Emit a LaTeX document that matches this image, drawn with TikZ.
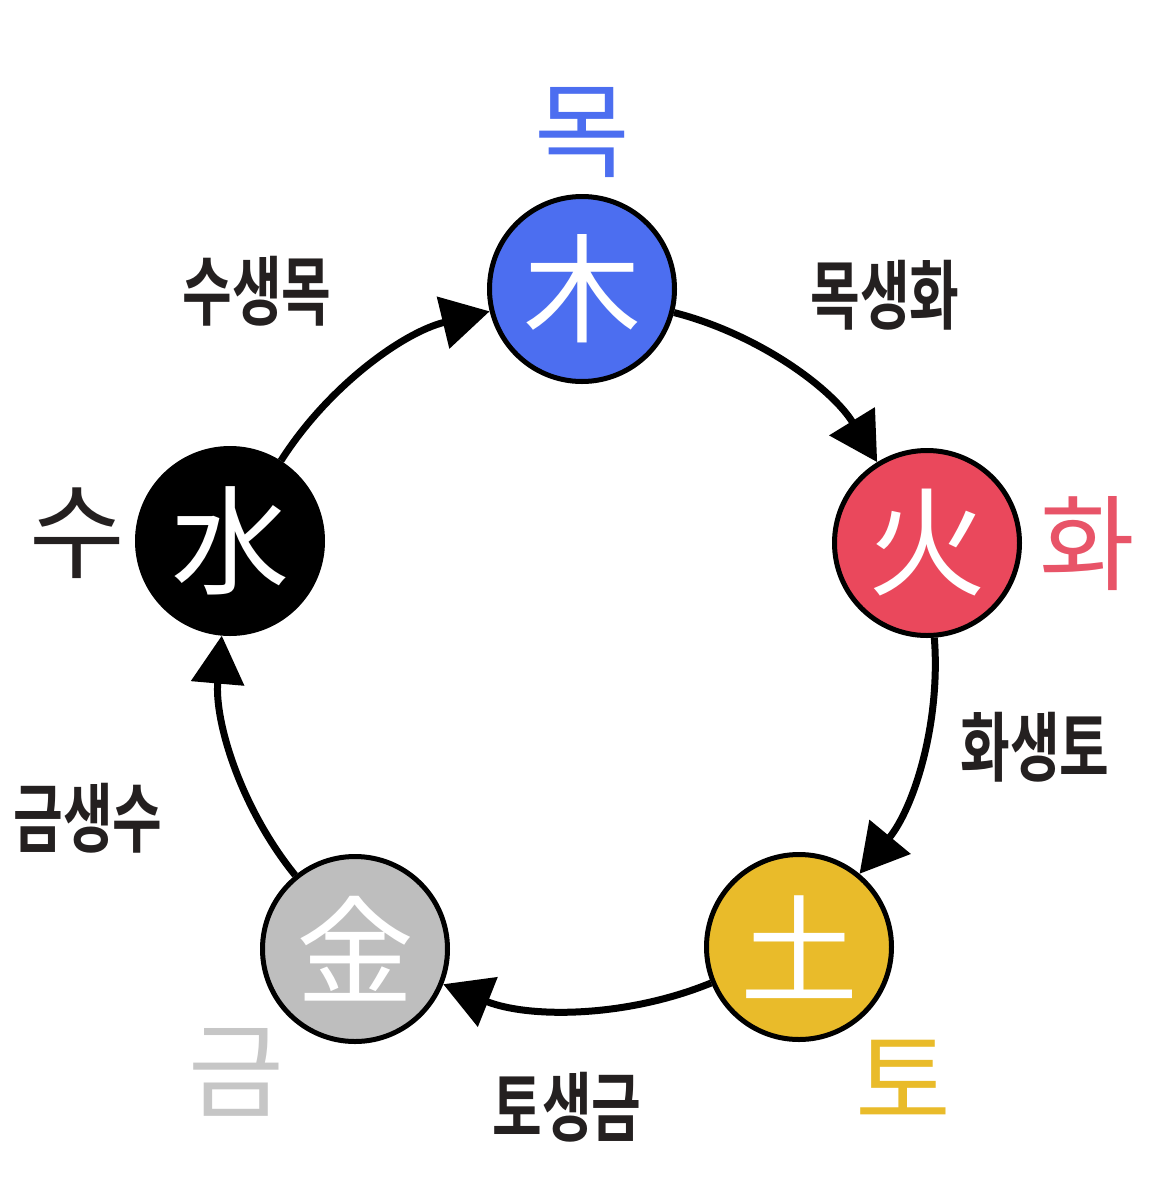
\documentclass[tikz,border=0pt]{standalone}
\usepackage{fontspec}
\usepackage{xcolor}
\usepackage{graphicx}
\usepackage{tikz}
\usetikzlibrary{arrows.meta}
\newfontfamily\krfont[BoldFont=Noto Sans CJK KR Bold]{Noto Sans CJK KR}
\def\hanjafont{\krfont\fontsize{118pt}{118pt}\selectfont}
\def\namefont{\krfont\fontsize{104pt}{104pt}\selectfont}
\def\saengfont{\krfont\bfseries\fontsize{54pt}{54pt}\selectfont}
\newcommand{\saeng}[1]{\scalebox{1}[1.4]{#1}}
\definecolor{mokblue}{RGB}{76,110,240}
\definecolor{hwared}{RGB}{234,72,92}
\definecolor{hwalabel}{RGB}{232,84,104}
\definecolor{toyellow}{RGB}{233,187,42}
\definecolor{geumgray}{RGB}{190,190,190}
\definecolor{geumlabel}{RGB}{198,198,198}
\definecolor{sulabel}{RGB}{36,32,32}

\begin{document}
\begin{tikzpicture}[x=1pt,y=-1pt]
    \tikzstyle{ohaeng}=[circle,draw,line width=5pt,minimum size=185pt,inner sep=0pt,text=white,font=\hanjafont]
    \tikzstyle{hangul}=[inner sep=0pt,font=\namefont]
    \tikzstyle{saenglabel}=[inner sep=0pt,text=sulabel,font=\saengfont]
    \tikzstyle{flow}=[line width=7pt,-{Triangle[length=48pt,width=52pt]},bend left=22,looseness=0.88]
    \useasboundingbox (0,0) rectangle (1172,1200);
    \node[ohaeng,fill=mokblue] (mok) at (582,289) {木};
    \node[ohaeng,fill=hwared] (hwa) at (927,543) {火};
    \node[ohaeng,fill=toyellow] (to) at (799,947) {土};
    \node[ohaeng,fill=geumgray] (geum) at (355,949) {金};
    \node[ohaeng,fill=black] (su) at (230,541) {水};
    \node[hangul,text=mokblue] (mokname) at (582,133) {목};
    \node[hangul,text=hwalabel] (hwaname) at (1087,544) {화};
    \node[hangul,text=toyellow] (toname) at (903,1079) {토};
    \node[hangul,text=geumlabel] (geumname) at (236,1072) {금};
    \node[hangul,text=sulabel] (suname) at (77,533) {수};
    \draw[flow] (mok) to (hwa);
    \draw[flow] (hwa) to (to);
    \draw[flow] (to) to (geum);
    \draw[flow] (geum) to (su);
    \draw[flow] (su) to (mok);
    \node[saenglabel] (mokhwa) at (885,295) {\saeng{목생화}};
    \node[saenglabel] (hwato) at (1035,747) {\saeng{화생토}};
    \node[saenglabel] (togeum) at (567,1107) {\saeng{토생금}};
    \node[saenglabel] (geumsu) at (88,818) {\saeng{금생수}};
    \node[saenglabel] (sumok) at (257,291) {\saeng{수생목}};
\end{tikzpicture}
\end{document}
